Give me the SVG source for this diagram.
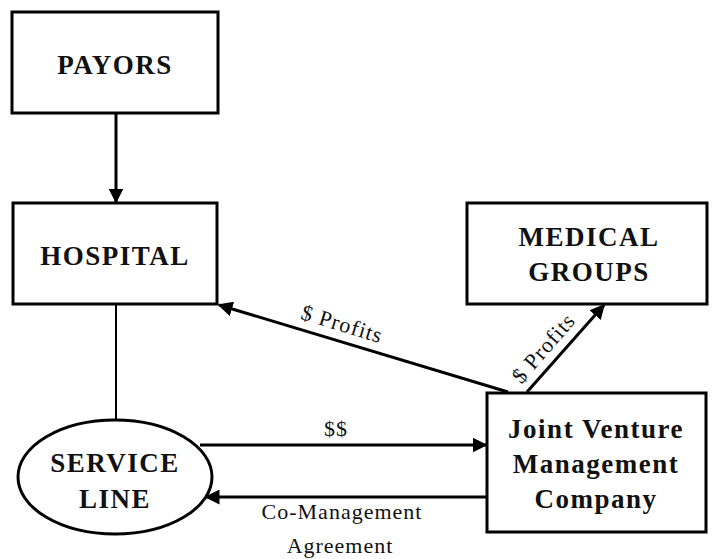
<svg xmlns="http://www.w3.org/2000/svg" width="717" height="559" viewBox="0 0 717 559">
<defs>
<style>
.box{fill:#fff;stroke:#000;stroke-width:3}
.nt{font-family:"Liberation Serif","Times New Roman",serif;font-weight:bold;font-size:27px;letter-spacing:1.5px;text-anchor:middle;fill:#111}
.et{font-family:"Liberation Serif","Times New Roman",serif;font-size:22px;letter-spacing:1px;text-anchor:middle;fill:#111}
.ln{stroke:#000;stroke-width:3;fill:none}
.thin{stroke:#000;stroke-width:2;fill:none}
</style>
<marker id="ah" viewBox="0 0 10 10" refX="9" refY="5" markerWidth="5" markerHeight="5" orient="auto" markerUnits="strokeWidth">
<path d="M0,0 L10,5 L0,10 z" fill="#000"/>
</marker>
</defs>
<rect width="717" height="559" fill="#fff"/>
<g id="connectors">
<line class="ln" x1="116" y1="113" x2="116" y2="202" marker-end="url(#ah)"/>
<line class="thin" x1="116" y1="304" x2="116" y2="420"/>
<line class="ln" x1="508" y1="392" x2="219" y2="305" marker-end="url(#ah)"/>
<line class="ln" x1="527" y1="392" x2="604" y2="305" marker-end="url(#ah)"/>
<line class="ln" x1="200" y1="445" x2="486" y2="445" marker-end="url(#ah)"/>
<line class="ln" x1="487" y1="497" x2="206" y2="497" marker-end="url(#ah)"/>
<text class="et" transform="translate(340,331) rotate(17)">$ Profits</text>
<text class="et" transform="translate(549,353) rotate(-49)">$ Profits</text>
<text class="et" x="336" y="436">$$</text>
<text class="et" x="342" y="519">Co-Management</text>
<text class="et" x="340" y="553">Agreement</text>
</g>
<g id="payors">
<rect class="box" x="12" y="12" width="206" height="101"/>
<text class="nt" x="115" y="74">PAYORS</text>
</g>
<g id="hospital">
<rect class="box" x="13" y="203" width="204" height="101"/>
<text class="nt" x="115" y="265">HOSPITAL</text>
</g>
<g id="medical-groups">
<rect class="box" x="467" y="203" width="240" height="101"/>
<text class="nt" x="589" y="246">MEDICAL</text>
<text class="nt" x="589" y="281">GROUPS</text>
</g>
<g id="service-line">
<ellipse class="box" cx="115" cy="477" rx="97" ry="57"/>
<text class="nt" x="115" y="472">SERVICE</text>
<text class="nt" x="115" y="508">LINE</text>
</g>
<g id="joint-venture">
<rect class="box" x="487" y="393" width="219" height="139"/>
<text class="nt" x="596" y="438">Joint Venture</text>
<text class="nt" x="596" y="473">Management</text>
<text class="nt" x="596" y="508">Company</text>
</g>
</svg>
